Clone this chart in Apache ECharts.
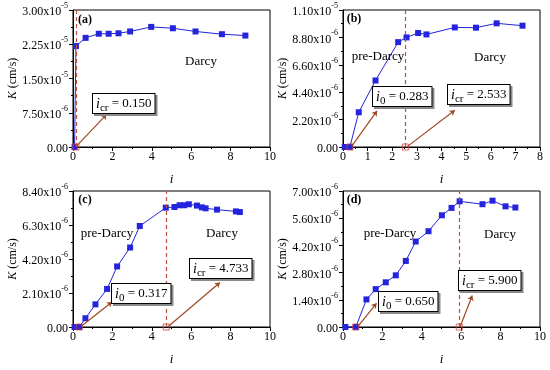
<!DOCTYPE html>
<html><head><meta charset="utf-8">
<script src="https://cdn.jsdelivr.net/npm/echarts@6/dist/echarts.min.js"></script>
<style>html,body{margin:0;padding:0;background:#fff}#c{width:550px;height:370px}</style>
</head><body><div id="c"></div>
<script>
// K values in units of 1e-6 cm/s
const iA = [0.08, 0.15, 0.64, 1.31, 1.81, 2.31, 2.90, 3.97, 5.07, 6.22, 7.56, 8.75];
const kA = [0, 22.1, 23.9, 24.8, 24.8, 24.9, 25.3, 26.3, 26.0, 25.3, 24.7, 24.4];
const iB = [0.07, 0.28, 0.64, 1.32, 2.24, 2.58, 3.05, 3.39, 4.54, 5.40, 6.24, 7.29];
const kB = [0, 0, 2.79, 5.34, 8.42, 8.80, 9.15, 9.04, 9.60, 9.58, 9.93, 9.74];
const iC = [0.08, 0.32, 0.63, 1.14, 1.73, 2.24, 2.90, 3.39, 4.71, 5.15, 5.41, 5.64, 5.88, 6.29, 6.54, 6.73, 7.31, 8.27, 8.47];
const kC = [0, 0, 0.54, 1.40, 2.35, 3.74, 4.91, 6.24, 7.37, 7.41, 7.52, 7.52, 7.58, 7.50, 7.39, 7.33, 7.25, 7.14, 7.10];
const iD = [0.12, 0.65, 1.19, 1.66, 2.17, 2.68, 3.19, 3.69, 4.34, 5.02, 5.51, 5.92, 7.08, 7.59, 8.25, 8.75];
const kD = [0, 0, 1.42, 1.95, 2.30, 2.66, 3.40, 4.40, 4.93, 5.75, 6.13, 6.47, 6.32, 6.50, 6.21, 6.15];

const yTicksA = ['0.00', '7.50x10^-6', '1.50x10^-5', '2.25x10^-5', '3.00x10^-5'];
const yTicksB = ['0.00', '2.20x10^-6', '4.40x10^-6', '6.60x10^-6', '8.80x10^-6', '1.10x10^-5'];
const yTicksC = ['0.00', '2.10x10^-6', '4.20x10^-6', '6.30x10^-6', '8.40x10^-6'];
const yTicksD = ['0.00', '1.40x10^-6', '2.80x10^-6', '4.20x10^-6', '5.60x10^-6', '7.00x10^-6'];

// threshold gradients
const thrA = {i0: null, icr: 0.150};
const thrB = {i0: 0.283, icr: 2.533};
const thrC = {i0: 0.317, icr: 4.733};
const thrD = {i0: 0.650, icr: 5.900};

// arrows [start, end] in (i, K*1e6)
const arrowsA = [[[0.2, 0.3], [1.70, 7.1]]];
const arrowsB = [[[0.35, 0.05], [1.38, 2.90]], [[2.62, 0.05], [4.54, 2.95]]];
const arrowsC = [[[0.42, 0.05], [1.98, 1.55]], [[4.85, 0.05], [7.46, 2.75]]];
const arrowsD = [[[0.76, 0.03], [1.70, 1.22]], [[5.95, 0.03], [6.56, 1.62]]];

const serif = '"Liberation Serif", "DejaVu Serif", serif';
const blue = '#2424dc';

const panels = [
  {i: iA, k: kA, ticks: yTicksA, max: 30, interval: 7.5, xmax: 10, xint: 2, thr: thrA, arrows: arrowsA,
   grid: {left: 73, top: 10, width: 197, height: 137}},
  {i: iB, k: kB, ticks: yTicksB, max: 11, interval: 2.2, xmax: 8, xint: 1, thr: thrB, arrows: arrowsB,
   grid: {left: 343, top: 10, width: 197, height: 137}},
  {i: iC, k: kC, ticks: yTicksC, max: 8.4, interval: 2.1, xmax: 10, xint: 2, thr: thrC, arrows: arrowsC,
   grid: {left: 73, top: 191, width: 197, height: 136}},
  {i: iD, k: kD, ticks: yTicksD, max: 7, interval: 1.4, xmax: 10, xint: 2, thr: thrD, arrows: arrowsD,
   grid: {left: 343, top: 191, width: 197, height: 136}}
];

function tickFmt(arr) {
  return function (v, idx) {
    const s = arr[idx];
    if (s === undefined) return '';
    const p = s.split('^');
    return p.length > 1 ? '{m|' + p[0] + '}{s|' + p[1] + '}' : '{m|' + p[0] + '}';
  };
}

const grids = [], xAxes = [], yAxes = [], series = [];
panels.forEach((p, n) => {
  grids.push(Object.assign({show: true, borderColor: '#000', borderWidth: 1, backgroundColor: 'transparent'}, p.grid));
  xAxes.push({
    gridIndex: n, type: 'value', min: 0, max: p.xmax, interval: p.xint,
    name: 'i', nameLocation: 'middle', nameGap: 26,
    nameTextStyle: {fontFamily: serif, fontStyle: 'italic', fontSize: 13, color: '#000'},
    axisLine: {show: true, onZero: false, lineStyle: {color: '#000', width: 1}},
    axisTick: {show: true, length: 4, lineStyle: {color: '#000'}},
    minorTick: {show: true, splitNumber: 2, length: 2, lineStyle: {color: '#000'}},
    splitLine: {show: false},
    axisLabel: {fontFamily: serif, fontSize: 12, color: '#000', margin: 4}
  });
  yAxes.push({
    gridIndex: n, type: 'value', min: 0, max: p.max, interval: p.interval,
    name: '{k|K} (cm/s)', nameLocation: 'middle', nameGap: 54,
    nameTextStyle: {fontFamily: serif, fontSize: 12, color: '#000',
      rich: {k: {fontFamily: serif, fontStyle: 'italic', fontSize: 12, color: '#000'}}},
    axisLine: {show: true, lineStyle: {color: '#000', width: 1}},
    axisTick: {show: true, length: 4, lineStyle: {color: '#000'}},
    minorTick: {show: true, splitNumber: 2, length: 2, lineStyle: {color: '#000'}},
    splitLine: {show: false},
    axisLabel: {
      formatter: tickFmt(p.ticks), margin: 5,
      rich: {
        m: {fontFamily: serif, fontSize: 12, color: '#000', verticalAlign: 'bottom', lineHeight: 16},
        s: {fontFamily: serif, fontSize: 8, color: '#000', verticalAlign: 'top', lineHeight: 16}
      }
    }
  });
  series.push({
    type: 'line', xAxisIndex: n, yAxisIndex: n,
    data: p.i.map((x, j) => [x, p.k[j]]),
    symbol: 'rect', symbolSize: 6, clip: false,
    lineStyle: {color: blue, width: 1}, itemStyle: {color: blue},
    animation: false, z: 3
  });
  const sq = [];
  if (p.thr.i0 !== null) sq.push([p.thr.i0, 0]);
  sq.push([p.thr.icr, 0]);
  const ml = [{xAxis: p.thr.icr, lineStyle: {type: [4, 3], color: '#c0503a', width: 1.2}}];
  p.arrows.forEach(a => ml.push([{coord: a[0], symbol: 'none'}, {coord: a[1], symbol: 'arrow', symbolSize: 5}]));
  series.push({
    type: 'scatter', xAxisIndex: n, yAxisIndex: n, data: sq, clip: false,
    symbol: 'rect', symbolSize: 6,
    itemStyle: {color: 'rgba(255,255,255,0)', borderColor: '#d9453a', borderWidth: 1},
    animation: false, z: 4,
    markLine: {
      silent: true, animation: false, symbol: ['none', 'none'], symbolSize: 5, label: {show: false},
      lineStyle: {color: '#9c4a22', type: 'solid', width: 1.2},
      data: ml
    }
  });
});

function txt(x, y, s, opts) {
  return {type: 'text', x: x, y: y, z: 10, style: Object.assign({
    text: s, font: '12px ' + serif, fill: '#000', align: 'center', verticalAlign: 'middle'}, opts || {})};
}
function mkRich(col) {
  return {
    it: {fontFamily: serif, fontStyle: 'italic', fontSize: 14, color: col, verticalAlign: 'middle', lineHeight: 20},
    sb: {fontFamily: serif, fontSize: 11, color: col, verticalAlign: 'bottom', lineHeight: 20},
    n: {fontFamily: serif, fontSize: 13, color: col, verticalAlign: 'middle', lineHeight: 20}
  };
}
const boxRich = mkRich('#000');
const shadowRich = mkRich('rgba(0,0,0,0)');
function box(x, y, sub, val) {
  const t = '{it|i}{sb|' + sub + '}{n| = ' + val + '}';
  return [
    {type: 'text', x: x + 2, y: y + 2, z: 11, style: {
      text: t, rich: shadowRich, align: 'left', verticalAlign: 'top',
      backgroundColor: '#8a8a8a', borderColor: '#8a8a8a', borderWidth: 1, padding: [0, 3, -1, 3]}},
    {type: 'text', x: x, y: y, z: 12, style: {
      text: t, rich: boxRich, align: 'left', verticalAlign: 'top',
      backgroundColor: '#fff', borderColor: '#000', borderWidth: 1, padding: [0, 3, -1, 3]}}
  ];
}

const graphic = [
  txt(85, 20, '(a)', {font: 'bold 12px ' + serif}),
  txt(354, 19, '(b)', {font: 'bold 12px ' + serif}),
  txt(85, 200, '(c)', {font: 'bold 12px ' + serif}),
  txt(354, 200, '(d)', {font: 'bold 12px ' + serif}),
  txt(201, 62, 'Darcy', {font: '13px ' + serif}),
  txt(378, 57, 'pre-Darcy', {font: '13px ' + serif}),
  txt(490, 58, 'Darcy', {font: '13px ' + serif}),
  txt(107, 234, 'pre-Darcy', {font: '13px ' + serif}),
  txt(222, 234, 'Darcy', {font: '13px ' + serif}),
  txt(390, 234, 'pre-Darcy', {font: '13px ' + serif}),
  txt(500, 235, 'Darcy', {font: '13px ' + serif})
].concat(
  box(93, 94, 'cr', '0.150'),
  box(373, 87, '0', '0.283'),
  box(448, 85, 'cr', '2.533'),
  box(112, 284, '0', '0.317'),
  box(190, 259, 'cr', '4.733'),
  box(379, 292, '0', '0.650'),
  box(459, 271, 'cr', '5.900')
);

const chart = echarts.init(document.getElementById('c'), null, {renderer: 'canvas'});
chart.setOption({
  animation: false, backgroundColor: '#fff',
  grid: grids, xAxis: xAxes, yAxis: yAxes, series: series, graphic: graphic
});
</script></body></html>
